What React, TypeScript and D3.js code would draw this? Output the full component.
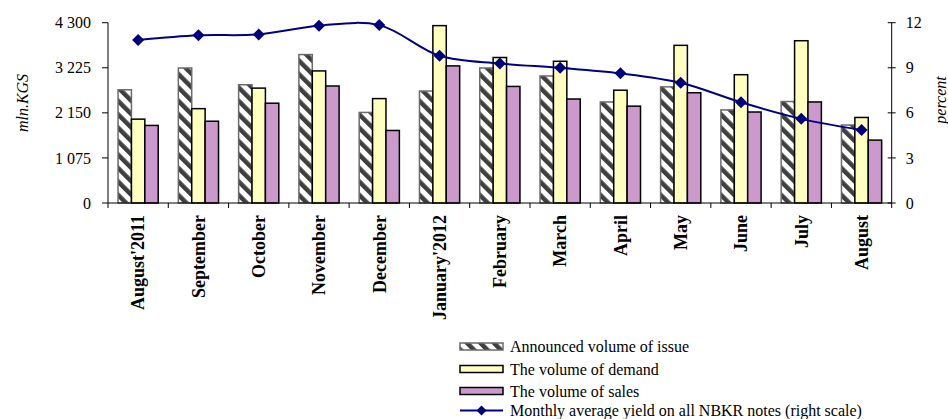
import React from "react";
import * as d3 from "d3";

const months = [
  "August'2011", "September", "October", "November", "December", "January'2012",
  "February", "March", "April", "May", "June", "July", "August",
];
const announced = [2700, 3220, 2820, 3540, 2160, 2670, 3220, 3030, 2410, 2770, 2220, 2420, 1860];
const demand = [2000, 2250, 2740, 3150, 2490, 4230, 3470, 3380, 2690, 3760, 3060, 3870, 2040];
const sales = [1850, 1950, 2380, 2790, 1730, 3270, 2780, 2480, 2310, 2630, 2170, 2410, 1500];
const yieldPct = [10.85, 11.16, 11.22, 11.8, 11.84, 9.8, 9.29, 9.0, 8.63, 8.0, 6.7, 5.6, 4.86];

const leftTicks = [0, 1075, 2150, 3225, 4300];
const rightTicks = [0, 3, 6, 9, 12];
const seriesKeys = ["announced", "demand", "sales"];
const legendItems = [
  "Announced volume of issue",
  "The volume of demand",
  "The volume of sales",
  "Monthly average yield on all NBKR notes (right scale)",
];

const W = 948;
const H = 419;
const plotLeft = 108;
const plotRight = 891.7;
const plotTop = 22.7;
const plotBottom = 203;
const font = "'Liberation Serif', 'Times New Roman', serif";

export default function App() {
  const x0 = d3.scaleBand<string>().domain(months).range([plotLeft, plotRight]).padding(0);
  const bw = x0.bandwidth();
  const x1 = d3.scaleBand<string>().domain(seriesKeys).range([bw / 6, (bw * 5) / 6]).padding(0);
  const yL = d3.scaleLinear().domain([0, 4300]).range([plotBottom, plotTop]);
  const yR = d3.scaleLinear().domain([0, 12]).range([plotBottom, plotTop]);

  const values: Record<string, number[]> = { announced, demand, sales };
  const fills: Record<string, string> = {
    announced: "url(#hatch)",
    demand: "#FFFFC0",
    sales: "#CC99CC",
  };
  const strokes: Record<string, string> = {
    announced: "#6b6b6b",
    demand: "#000",
    sales: "#000",
  };

  const line = d3
    .line<number>()
    .x((_, i) => (x0(months[i]) as number) + bw / 2)
    .y((d) => yR(d))
    .curve(d3.curveCatmullRom.alpha(0.5));

  const diamond = (cx: number, cy: number, r: number) =>
    `M${cx},${cy - r}L${cx + r},${cy}L${cx},${cy + r}L${cx - r},${cy}Z`;

  const legendX = 460;
  const legendRows = [346.5, 369, 391, 410.5];

  return (
    <svg width={W} height={H} style={{ display: "block", position: "absolute", left: 0, top: 0 }}>
      <defs>
        <pattern id="hatch" patternUnits="userSpaceOnUse" width={9.5} height={9.5} patternTransform="rotate(-45)">
          <rect width={9.5} height={9.5} fill="#fff" />
          <rect x={0} y={0} width={4.5} height={9.5} fill="#3f3f3f" />
        </pattern>
      </defs>
      <rect width={W} height={H} fill="#fff" />

      {/* bars */}
      {months.map((m, i) => (
        <g key={m} transform={`translate(${x0(m)},0)`}>
          {seriesKeys.map((k) => {
            const v = values[k][i];
            return (
              <rect
                key={k}
                x={x1(k)}
                y={yL(v)}
                width={x1.bandwidth()}
                height={plotBottom - yL(v)}
                fill={fills[k]}
                stroke={strokes[k]}
                strokeWidth={1.5}
              />
            );
          })}
        </g>
      ))}

      {/* left axis */}
      <line x1={plotLeft} x2={plotLeft} y1={plotTop} y2={plotBottom} stroke="#000" strokeWidth={1} />
      {leftTicks.map((t) => (
        <g key={t}>
          <line x1={plotLeft - 6} x2={plotLeft} y1={yL(t)} y2={yL(t)} stroke="#000" />
          <text
            x={plotLeft - 17}
            y={yL(t)}
            dy="0.35em"
            textAnchor="end"
            fontFamily={font}
            fontSize={16}
          >
            {d3.format(",")(t).replace(/,/g, " ")}
          </text>
        </g>
      ))}
      <text
        transform={`translate(22,103) rotate(-90)`}
        textAnchor="middle"
        dy="0.35em"
        fontFamily={font}
        fontSize={16}
        fontStyle="italic"
      >
        mln.KGS
      </text>

      {/* right axis */}
      <line x1={plotRight} x2={plotRight} y1={plotTop} y2={plotBottom} stroke="#000" strokeWidth={1} />
      {rightTicks.map((t) => (
        <g key={t}>
          <line x1={plotRight - 4} x2={plotRight + 4} y1={yR(t)} y2={yR(t)} stroke="#000" />
          <text x={plotRight + 14} y={yR(t)} dy="0.35em" fontFamily={font} fontSize={16}>
            {t}
          </text>
        </g>
      ))}
      <text
        transform={`translate(940,100) rotate(-90)`}
        textAnchor="middle"
        dy="0.35em"
        fontFamily={font}
        fontSize={16}
        fontStyle="italic"
      >
        percent
      </text>

      {/* x axis */}
      <line x1={plotLeft} x2={plotRight} y1={plotBottom} y2={plotBottom} stroke="#000" strokeWidth={1} />
      {[...months.map((m) => x0(m) as number), plotRight].map((x, i) => (
        <line key={i} x1={x} x2={x} y1={plotBottom} y2={plotBottom + 5} stroke="#000" />
      ))}
      {months.map((m) => (
        <text
          key={m}
          transform={`translate(${(x0(m) as number) + bw / 2},215) rotate(-90)`}
          textAnchor="end"
          dy="0.35em"
          fontFamily={font}
          fontSize={18}
          fontWeight="bold"
        >
          {m}
        </text>
      ))}

      {/* yield line */}
      <path d={line(yieldPct) || ""} fill="none" stroke="#000080" strokeWidth={2} />
      {yieldPct.map((v, i) => (
        <path key={i} d={diamond((x0(months[i]) as number) + bw / 2, yR(v), 6)} fill="#000080" />
      ))}

      {/* legend */}
      {legendItems.map((label, i) => {
        const cy = legendRows[i];
        let swatch;
        if (i < 3) {
          swatch = (
            <rect
              x={legendX}
              y={cy - 3.5}
              width={43}
              height={7}
              fill={fills[seriesKeys[i]]}
              stroke={strokes[seriesKeys[i]]}
              strokeWidth={1.5}
            />
          );
        } else {
          swatch = (
            <g>
              <line x1={legendX} x2={legendX + 43} y1={cy} y2={cy} stroke="#000080" strokeWidth={2} />
              <path d={diamond(legendX + 21.5, cy, 5)} fill="#000080" />
            </g>
          );
        }
        return (
          <g key={label}>
            {swatch}
            <text x={510} y={cy} dy="0.35em" fontFamily={font} fontSize={16}>
              {label}
            </text>
          </g>
        );
      })}
    </svg>
  );
}
